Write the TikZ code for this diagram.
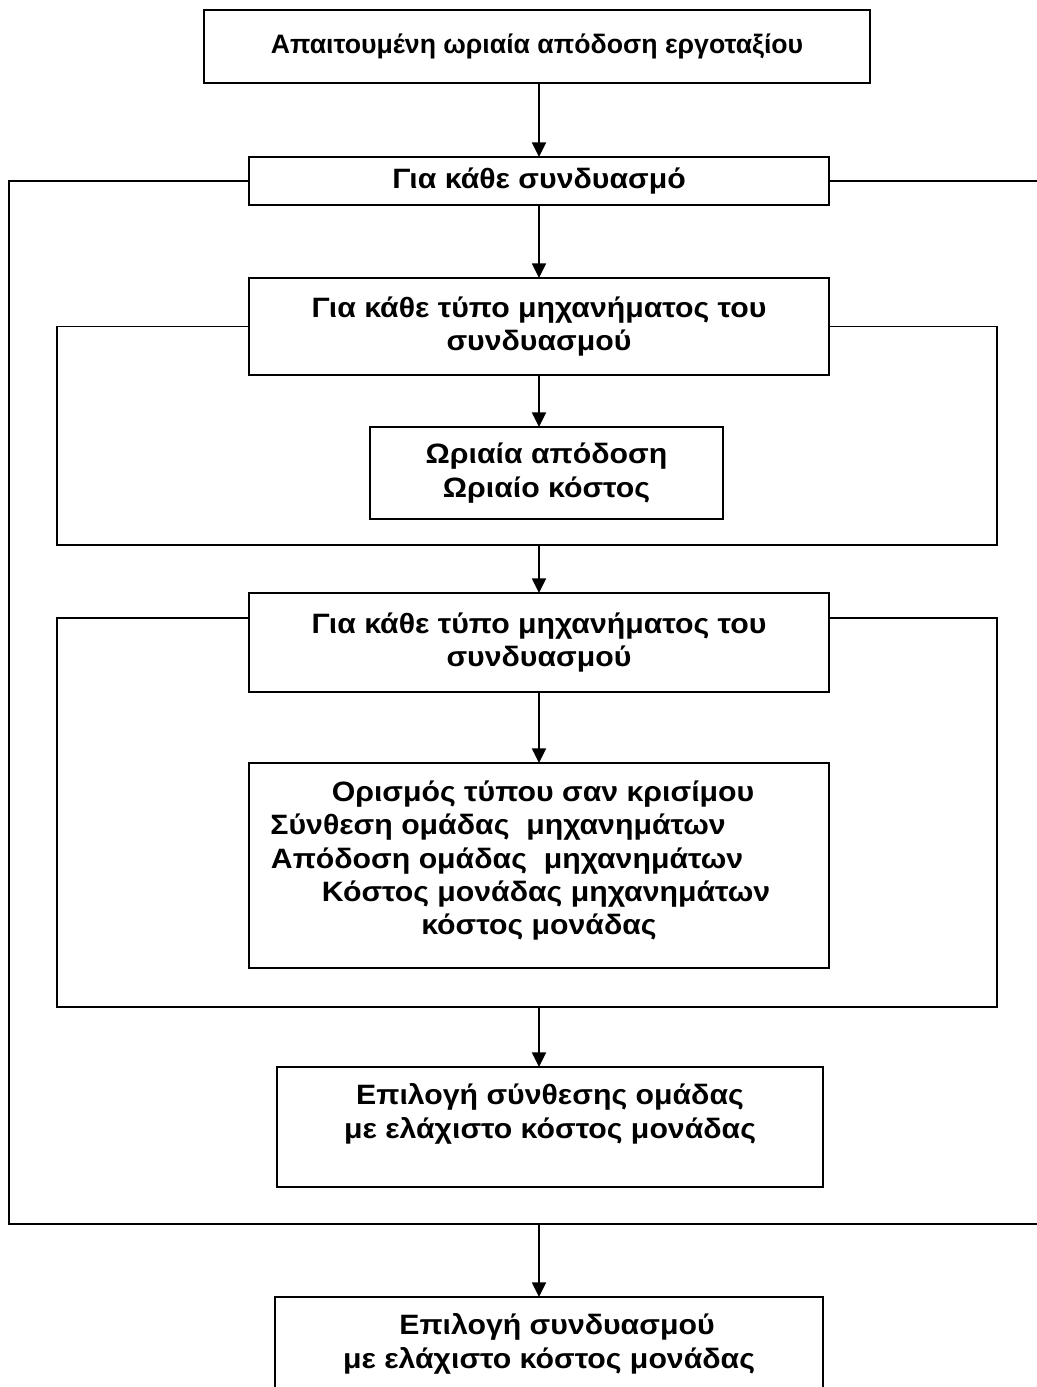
\documentclass[tikz,border=0pt]{standalone}
\usepackage{fontspec}
\setmainfont{Liberation Sans}
\newfontfamily\wideface{Liberation Sans}[FakeStretch=1.08]
\usepackage{tikz}
\usetikzlibrary{positioning}
\usetikzlibrary{arrows.meta}

\tikzset{
    box/.style={draw, line width=1.2pt, align=center, inner sep=0pt, outer sep=0pt,
        font=\wideface\bfseries\fontsize{21}{25}\selectfont},
    flow/.style={line width=1.2pt, -{Triangle[length=11pt,width=10.5pt]}},
    loopline/.style={line width=1.2pt},
}

\begin{document}
\begin{tikzpicture}[x=0.75pt, y=-0.75pt]
    \useasboundingbox (0,0) rectangle (1037,1387);
    \clip (0,0) rectangle (1037,1387);

    \node[box, minimum width=499.5pt, minimum height=54.75pt,
        font=\bfseries\fontsize{20}{25}\selectfont] (need) at (537,46.5)
        {Απαιτουμένη ωριαία απόδοση εργοταξίου};
    \node[box, minimum width=435pt, minimum height=36pt] (combo)
        [below=55.5pt of need, xshift=1.5pt] {Για κάθε συνδυασμό};
    \node[box, minimum width=435pt, minimum height=72.75pt] (typeA)
        [below=54.75pt of combo] {Για κάθε τύπο μηχανήματος του\\συνδυασμού};
    \node[box, minimum width=264.75pt, minimum height=69pt] (hourly)
        [below=39pt of typeA, xshift=5.6pt] {Ωριαία απόδοση\\Ωριαίο κόστος};
    \node[box, minimum width=435pt, minimum height=74.25pt] (typeB)
        [below=55.5pt of hourly, xshift=-5.6pt] {Για κάθε τύπο μηχανήματος του\\συνδυασμού};
    \node[box, minimum width=435pt, minimum height=153.75pt, text depth=11.5pt] (critical)
        [below=53.25pt of typeB]
        {\rule{6pt}{0pt}Ορισμός τύπου σαν κρισίμου\\
         Σύνθεση ομάδας\ \ μηχανημάτων\rule{61.5pt}{0pt}\\
         Απόδοση ομάδας\ \ μηχανημάτων\rule{48pt}{0pt}\\
         \rule{10.5pt}{0pt}Κόστος μονάδας μηχανημάτων\\
         κόστος μονάδας};
    \node[box, minimum width=409.5pt, minimum height=90pt, text depth=24pt] (pickteam)
        [below=74.25pt of critical, xshift=8.25pt]
        {Επιλογή σύνθεσης ομάδας\\με ελάχιστο κόστος μονάδας};
    \node[box, minimum width=411pt, minimum height=90pt, text depth=24pt] (pickcombo)
        [below=82.5pt of pickteam, xshift=-0.75pt]
        {\rule{12pt}{0pt}Επιλογή συνδυασμού\\με ελάχιστο κόστος μονάδας};

    % loop corners
    \coordinate (outsw) at (9,1224);
    \coordinate (outse) at (1060,1224);
    \coordinate (l1sw) at (57,545);
    \coordinate (l1se) at (997,545);
    \coordinate (l2sw) at (57,1007);
    \coordinate (l2se) at (997,1007);

    % loops
    \draw[loopline] (combo.west) -| (outsw) -- (outse);
    \draw[loopline] (combo.east) -- (combo.east -| outse);
    \draw[loopline] (typeA.west) -| (l1sw) -- (l1se) |- (typeA.east);
    \draw[loopline] ([yshift=-18.75pt]typeB.north west) -| (l2sw) -- (l2se)
        |- ([yshift=-18.75pt]typeB.north east);

    % arrows
    \draw[flow] (combo.north |- need.south) -- (combo.north);
    \draw[flow] (combo.south) -- (typeA.north);
    \draw[flow] (typeA.south) -- (typeA.south |- hourly.north);
    \draw[flow] (typeA.south |- l1sw) -- (typeB.north);
    \draw[flow] (typeB.south) -- (critical.north);
    \draw[flow] (critical.south |- l2sw) -- (critical.south |- pickteam.north);
    \draw[flow] (critical.south |- outsw) -- (critical.south |- pickcombo.north);
\end{tikzpicture}
\end{document}
